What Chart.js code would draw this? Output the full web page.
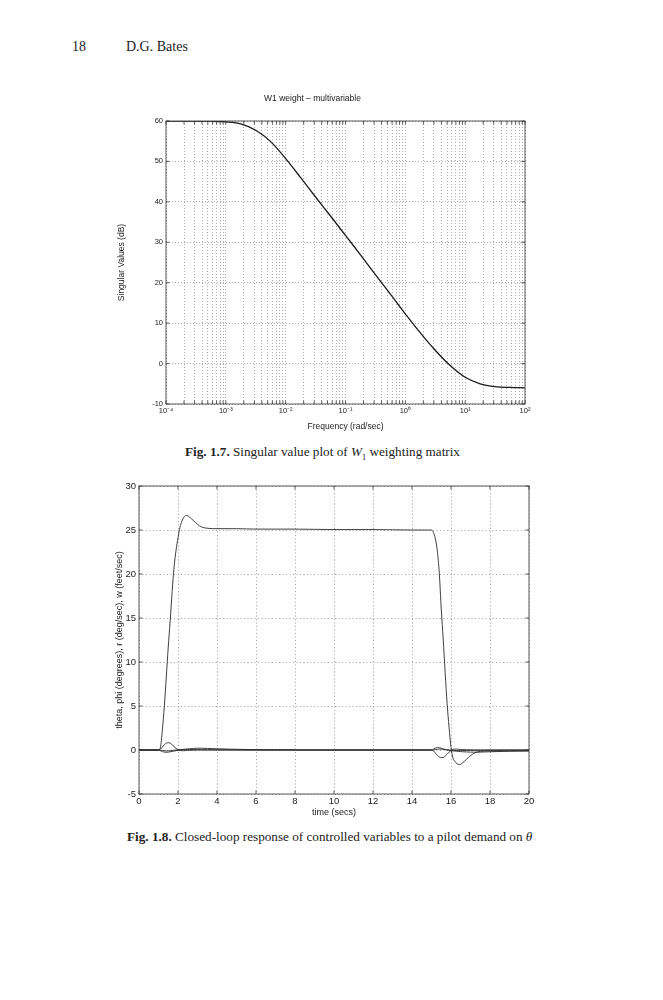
<!DOCTYPE html>
<html>
<head>
<meta charset="utf-8">
<script src="https://cdn.jsdelivr.net/npm/chart.js@4.4.1/dist/chart.umd.min.js"></script>
<style>
  body { margin: 0; background: #fff; width: 663px; height: 1000px; position: relative; font-family: "Liberation Serif", "Times New Roman", serif; color: #222; }
  .hdr { position: absolute; top: 39px; font-size: 14px; line-height: 16px; }
  .cap { position: absolute; font-size: 13.2px; line-height: 16px; white-space: nowrap; }
  .cap sub { font-size: 8.5px; }
  #wrap1 { position: absolute; left: 100px; top: 88px; width: 445px; height: 350px; }
  #wrap2 { position: absolute; left: 90px; top: 476px; width: 460px; height: 344px; }
</style>
</head>
<body>
<div class="hdr" style="left:72px">18</div>
<div class="hdr" style="left:126px">D.G. Bates</div>

<div id="wrap1"><canvas id="svChart"></canvas></div>
<div class="cap" style="left:185px; top:444px"><b>Fig. 1.7.</b> Singular value plot of <i>W</i><sub>1</sub> weighting matrix</div>

<div id="wrap2"><canvas id="stepChart"></canvas></div>
<div class="cap" style="left:127px; top:829px"><b>Fig. 1.8.</b> Closed-loop response of controlled variables to a pilot demand on <i>θ</i></div>

<script>
// Fig 1.7 data: singular value of W1 (dB) vs frequency (rad/sec)
const freqs = [1e-4, 1.78e-4, 3.16e-4, 5.62e-4, 1e-3, 1.78e-3, 3.16e-3, 5.62e-3, 1e-2, 1.78e-2, 3.16e-2, 5.62e-2,
               1e-1, 1.78e-1, 3.16e-1, 5.62e-1, 1, 1.78, 3.16, 5.62, 10, 17.8, 31.6, 56.2, 100];
const svDb = [60.0, 60.0, 60.0, 59.95, 59.8, 59.3, 57.7, 54.9, 50.7, 46.0, 41.2, 36.5,
              31.7, 26.9, 22.0, 17.2, 12.3, 7.6, 3.3, -0.5, -3.4, -5.0, -5.7, -5.9, -6.0];
const decades = [1e-4, 1e-3, 1e-2, 1e-1, 1, 10, 100];
const decadeLabels = ['10⁻⁴', '10⁻³', '10⁻²', '10⁻¹', '10⁰', '10¹', '10²'];
const minorSteps = [1, 2, 3, 4, 5, 6, 7, 8, 9];

// Fig 1.8 data: closed-loop responses vs time (secs)
const times = [0, 1.0, 1.1, 1.2, 1.3, 1.4, 1.5, 1.6, 1.7, 1.8, 1.9, 2.0, 2.1, 2.2, 2.3, 2.4, 2.5, 2.6,
               2.8, 3.0, 3.2, 3.5, 4.0, 5.0, 6.0, 8.0, 10.0, 12.0, 14.0,
               15.0, 15.1, 15.2, 15.3, 15.4, 15.5, 15.6, 15.7, 15.8, 15.9, 16.0, 16.1, 16.2, 16.3, 16.4, 16.5, 16.6,
               16.8, 17.0, 17.2, 17.5, 18.0, 19.0, 20.0];
const theta = [0, 0, 0.3, 2.3, 5.0, 8.3, 11.7, 14.7, 18.0, 20.8, 22.7, 24.1, 25.3, 26.0, 26.45, 26.65, 26.6, 26.45,
               26.05, 25.65, 25.35, 25.2, 25.15, 25.15, 25.1, 25.1, 25.05, 25.05, 25.0,
               25.0, 24.7, 24.0, 22.6, 20.1, 16.0, 12.6, 8.8, 5.3, 2.6, 0.3, -0.9, -1.3, -1.55, -1.65, -1.6, -1.45,
               -1.05, -0.65, -0.35, -0.15, -0.1, -0.1, -0.1];
const phi = [0, 0, -0.02, -0.05, -0.08, -0.1, -0.1, -0.08, -0.05, -0.02, 0, 0.02, 0.04, 0.05, 0.06, 0.06, 0.06, 0.06,
             0.05, 0.05, 0.04, 0.03, 0.02, 0.01, 0, 0, 0, 0, 0,
             0, 0.02, 0.05, 0.08, 0.1, 0.1, 0.08, 0.05, 0.02, 0, -0.02, -0.04, -0.05, -0.06, -0.06, -0.06, -0.06,
             -0.05, -0.05, -0.04, -0.03, -0.02, -0.01, 0];
const rRate = [0, 0, -0.08, -0.18, -0.24, -0.26, -0.24, -0.2, -0.16, -0.12, -0.08, -0.04, 0, 0.04, 0.07, 0.1, 0.12, 0.14,
               0.18, 0.2, 0.2, 0.18, 0.14, 0.08, 0.04, 0.01, 0, 0, 0,
               0, 0.1, 0.22, 0.28, 0.26, 0.2, 0.12, 0.05, 0, -0.04, -0.08, -0.1, -0.12, -0.14, -0.16, -0.18, -0.2,
               -0.22, -0.24, -0.25, -0.24, -0.2, -0.14, -0.1];
const wVel = [0, 0, 0.1, 0.35, 0.6, 0.78, 0.83, 0.78, 0.6, 0.38, 0.18, 0.04, -0.05, -0.08, -0.08, -0.07, -0.05, -0.04,
              -0.02, 0, 0, 0, 0, 0, 0, 0, 0, 0, 0,
              0, -0.1, -0.35, -0.6, -0.8, -0.85, -0.86, -0.7, -0.48, -0.25, -0.05, 0.07, 0.1, 0.1, 0.08, 0.06, 0.05,
              0.03, 0.02, 0.01, 0, 0, 0, 0];

Chart.defaults.font.family = '"Liberation Sans", Arial, sans-serif';
Chart.defaults.color = '#222';
Chart.defaults.animation = false;

const gridColor = '#8c8c8c';

// matlab-like box with inward ticks
const boxPlugin = {
  id: 'box',
  afterDraw(chart) {
    const {ctx, chartArea: a, scales} = chart;
    ctx.save();
    ctx.strokeStyle = '#333';
    ctx.lineWidth = 0.8;
    ctx.strokeRect(a.left, a.top, a.right - a.left, a.bottom - a.top);
    ctx.beginPath();
    scales.x.ticks.forEach(t => {
      const px = scales.x.getPixelForValue(t.value);
      ctx.moveTo(px, a.bottom); ctx.lineTo(px, a.bottom - 3.5);
      ctx.moveTo(px, a.top); ctx.lineTo(px, a.top + 3.5);
    });
    scales.y.ticks.forEach(t => {
      const py = scales.y.getPixelForValue(t.value);
      ctx.moveTo(a.left, py); ctx.lineTo(a.left + 3.5, py);
      ctx.moveTo(a.right, py); ctx.lineTo(a.right - 3.5, py);
    });
    ctx.stroke();
    ctx.restore();
  }
};

function toPoints(xs, ys) {
  return xs.map((x, i) => ({x: x, y: ys[i]}));
}

// Fig 1.7
function initSvChart() {
  const ctx = document.getElementById('svChart').getContext('2d');
  new Chart(ctx, {
    type: 'line',
    data: {
      datasets: [{
        label: 'W1',
        data: toPoints(freqs, svDb),
        borderColor: '#1a1a1a',
        borderWidth: 1.3,
        pointRadius: 0,
        cubicInterpolationMode: 'monotone'
      }]
    },
    options: {
      responsive: true,
      maintainAspectRatio: false,
      layout: { padding: { left: 0, right: 20, top: 0, bottom: 0 } },
      plugins: {
        legend: { display: false },
        tooltip: { enabled: false },
        title: {
          display: true,
          text: 'W1 weight – multivariable',
          font: { size: 8.5, weight: 'normal', lineHeight: 1.2 },
          padding: { top: 6, bottom: 16.8 }
        }
      },
      scales: {
        x: {
          type: 'logarithmic',
          min: 1e-4,
          max: 100,
          afterBuildTicks: s => {
            const ticks = [];
            decades.forEach((d, i) => {
              if (i === decades.length - 1) { ticks.push({value: d}); return; }
              minorSteps.forEach(m => ticks.push({value: d * m}));
            });
            s.ticks = ticks;
          },
          afterFit: s => { s.height = 34; },
          ticks: {
            autoSkip: false,
            maxRotation: 0,
            padding: 2,
            font: { size: 7.5 },
            callback: function(value) {
              const i = decades.findIndex(d => Math.abs(d - value) / d < 1e-6);
              return i >= 0 ? decadeLabels[i] : '';
            }
          },
          grid: { color: gridColor, lineWidth: 0.7, drawTicks: false },
          border: { display: false, dash: [1, 2] },
          title: {
            display: true,
            text: 'Frequency (rad/sec)',
            font: { size: 8.5, lineHeight: 1.2 },
            padding: { top: 0, bottom: 5.9 }
          }
        },
        y: {
          min: -10,
          max: 60,
          afterFit: s => { s.width = 66; },
          ticks: { stepSize: 10, padding: 3, font: { size: 7.5 } },
          grid: { color: gridColor, lineWidth: 0.7, drawTicks: false },
          border: { display: false, dash: [1, 2] },
          title: {
            display: true,
            text: 'Singular Values (dB)',
            font: { size: 8.5, lineHeight: 1.2 },
            padding: { top: 17, bottom: 0 }
          }
        }
      }
    },
    plugins: [boxPlugin]
  });
}

// Fig 1.8
function initStepChart() {
  const ctx = document.getElementById('stepChart').getContext('2d');
  const series = [
    { label: 'theta', values: theta },
    { label: 'phi', values: phi },
    { label: 'r', values: rRate },
    { label: 'w', values: wVel }
  ];
  new Chart(ctx, {
    type: 'line',
    data: {
      datasets: series.map(s => ({
        label: s.label,
        data: toPoints(times, s.values),
        borderColor: '#2a2a2a',
        borderWidth: 0.9,
        pointRadius: 0,
        cubicInterpolationMode: 'monotone'
      }))
    },
    options: {
      responsive: true,
      maintainAspectRatio: false,
      layout: { padding: { left: 0, right: 21, top: 10, bottom: 0 } },
      plugins: { legend: { display: false }, tooltip: { enabled: false } },
      scales: {
        x: {
          type: 'linear',
          min: 0,
          max: 20,
          afterFit: s => { s.height = 26; },
          ticks: { stepSize: 2, padding: 1.5, maxRotation: 0, font: { size: 9.5 } },
          grid: { color: gridColor, lineWidth: 0.8, drawTicks: false },
          border: { display: false, dash: [1, 2.5] },
          title: {
            display: true,
            text: 'time (secs)',
            font: { size: 9, lineHeight: 1.2 },
            padding: { top: 0, bottom: 2.4 }
          }
        },
        y: {
          min: -5,
          max: 30,
          afterFit: s => { s.width = 49; },
          ticks: { stepSize: 5, padding: 3, font: { size: 9.5 } },
          grid: { color: gridColor, lineWidth: 0.8, drawTicks: false },
          border: { display: false, dash: [1, 2.5] },
          title: {
            display: true,
            text: 'theta, phi (degrees), r (deg/sec), w (feet/sec)',
            font: { size: 9, lineHeight: 1.2 },
            padding: { top: 24.6, bottom: 0 }
          }
        }
      }
    },
    plugins: [boxPlugin]
  });
}

initSvChart();
initStepChart();
</script>
</body>
</html>
